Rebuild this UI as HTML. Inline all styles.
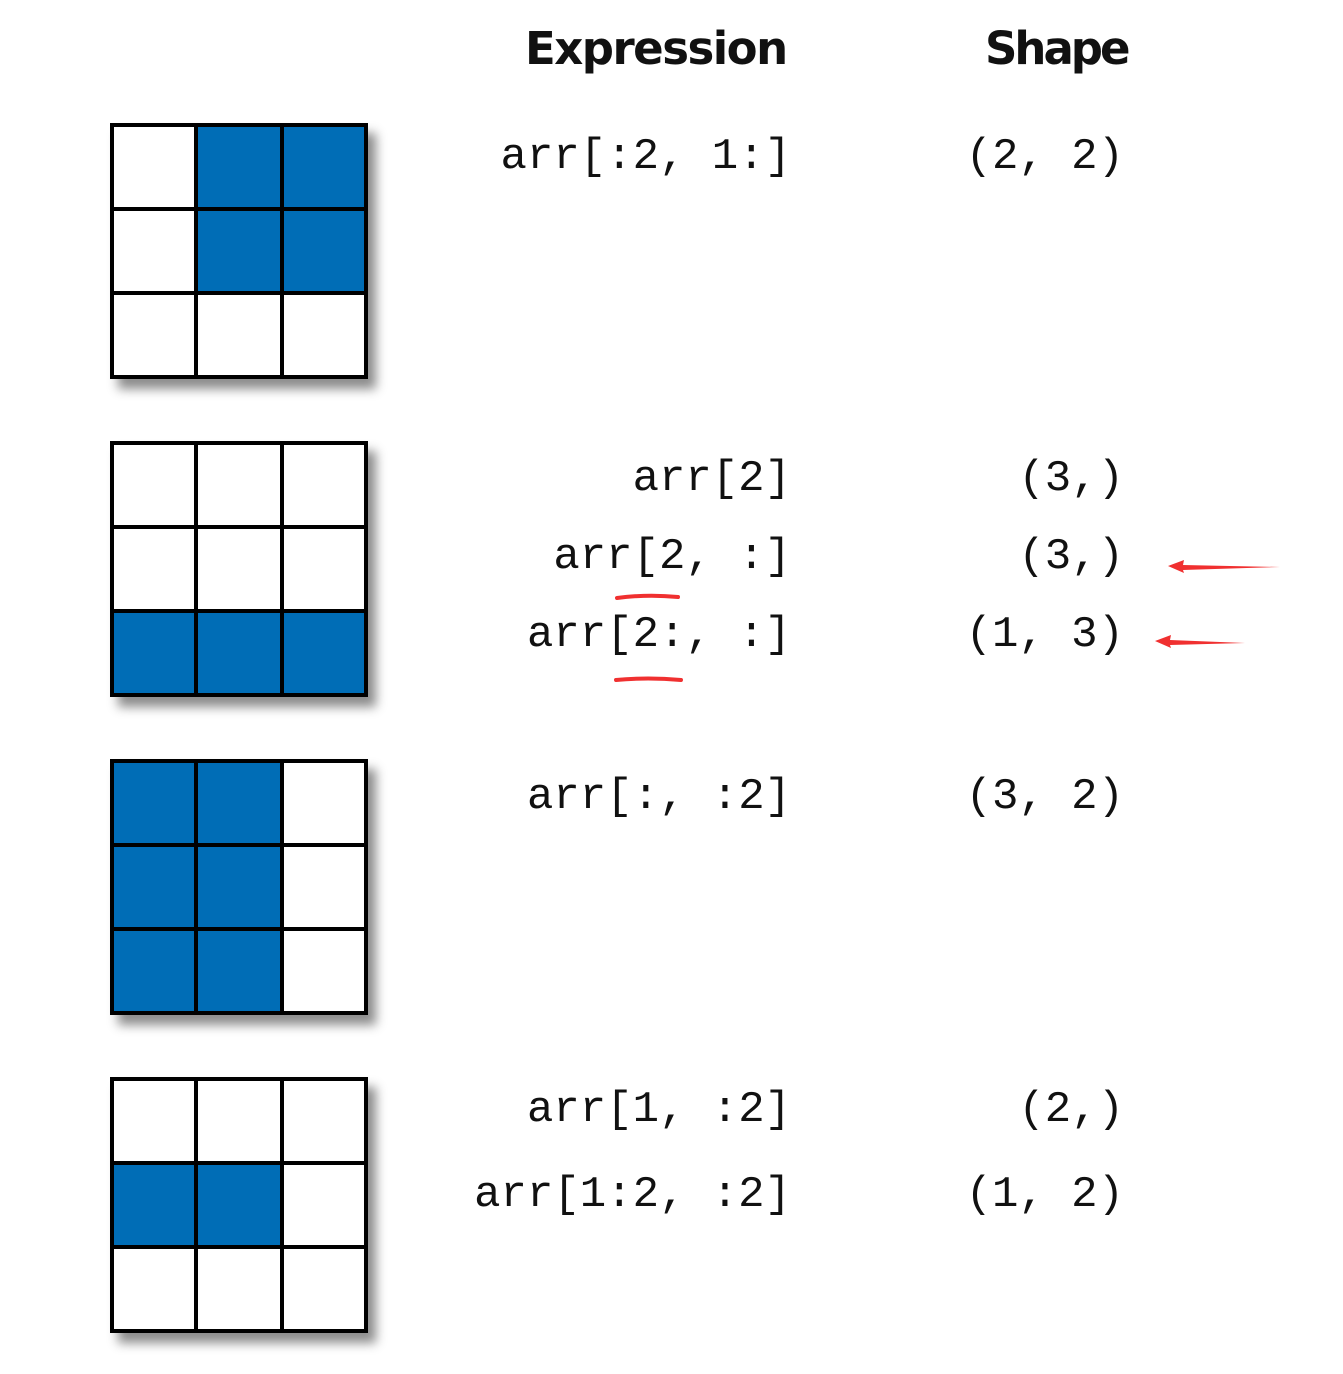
<!DOCTYPE html>
<html><head><style>
html,body{margin:0;padding:0;background:#fff;}
body{width:1343px;height:1374px;position:relative;overflow:hidden;}
.g{position:absolute;left:110px;width:258px;height:256px;box-shadow:8px 10px 10px rgba(0,0,0,0.45);}
.t{position:absolute;font-family:"Liberation Mono",monospace;font-size:44px;color:#111;white-space:pre;line-height:1;}
.e{right:552px;}
.s{right:219px;}
.h{position:absolute;font-family:"DejaVu Sans","Liberation Sans",sans-serif;font-weight:bold;font-size:45px;top:22px;color:#111;}
</style></head><body>
<div class="h" style="left:525px;letter-spacing:-1.5px">Expression</div>
<div class="h" style="left:985px;letter-spacing:-3px">Shape</div>

<svg class="g" style="top:123px" viewBox="0 0 258 256"><rect width="258" height="256" fill="#fff"/>
<rect x="86" y="0" width="172" height="170" fill="#006db6"/>
<g stroke="#000" stroke-width="4" fill="none"><rect x="2" y="2" width="254" height="252"/><line x1="86" y1="0" x2="86" y2="256"/><line x1="172" y1="0" x2="172" y2="256"/><line x1="0" y1="86" x2="258" y2="86"/><line x1="0" y1="170" x2="258" y2="170"/></g></svg>

<svg class="g" style="top:441px" viewBox="0 0 258 256"><rect width="258" height="256" fill="#fff"/>
<rect x="0" y="170" width="258" height="86" fill="#006db6"/>
<g stroke="#000" stroke-width="4" fill="none"><rect x="2" y="2" width="254" height="252"/><line x1="86" y1="0" x2="86" y2="256"/><line x1="172" y1="0" x2="172" y2="256"/><line x1="0" y1="86" x2="258" y2="86"/><line x1="0" y1="170" x2="258" y2="170"/></g></svg>

<svg class="g" style="top:759px" viewBox="0 0 258 256"><rect width="258" height="256" fill="#fff"/>
<rect x="0" y="0" width="172" height="256" fill="#006db6"/>
<g stroke="#000" stroke-width="4" fill="none"><rect x="2" y="2" width="254" height="252"/><line x1="86" y1="0" x2="86" y2="256"/><line x1="172" y1="0" x2="172" y2="256"/><line x1="0" y1="86" x2="258" y2="86"/><line x1="0" y1="170" x2="258" y2="170"/></g></svg>

<svg class="g" style="top:1077px" viewBox="0 0 258 256"><rect width="258" height="256" fill="#fff"/>
<rect x="0" y="86" width="172" height="84" fill="#006db6"/>
<g stroke="#000" stroke-width="4" fill="none"><rect x="2" y="2" width="254" height="252"/><line x1="86" y1="0" x2="86" y2="256"/><line x1="172" y1="0" x2="172" y2="256"/><line x1="0" y1="86" x2="258" y2="86"/><line x1="0" y1="170" x2="258" y2="170"/></g></svg>

<div class="t e" style="top:135px">arr[:2, 1:]</div>
<div class="t s" style="top:135px">(2, 2)</div>
<div class="t e" style="top:457px">arr[2]</div>
<div class="t s" style="top:457px">(3,)</div>
<div class="t e" style="top:535px">arr[2, :]</div>
<div class="t s" style="top:535px">(3,)</div>
<div class="t e" style="top:613px">arr[2:, :]</div>
<div class="t s" style="top:613px">(1, 3)</div>
<div class="t e" style="top:775px">arr[:, :2]</div>
<div class="t s" style="top:775px">(3, 2)</div>
<div class="t e" style="top:1088px">arr[1, :2]</div>
<div class="t s" style="top:1088px">(2,)</div>
<div class="t e" style="top:1173px">arr[1:2, :2]</div>
<div class="t s" style="top:1173px">(1, 2)</div>

<svg style="position:absolute;left:0;top:0" width="1343" height="1374">
<g stroke="#f03030" stroke-width="4" stroke-linecap="round" fill="none">
<path d="M617 598 Q647 594 678 597"/>
<path d="M616 680 Q648 677 681 680"/>
</g>
<path d="M1168 566 L1184 560 L1183 565 L1280 567 L1183 570 L1184 573 Z" fill="#f03030"/>
<path d="M1155 641 L1171 635 L1170 640 L1245 643 L1170 645 L1171 648 Z" fill="#f03030"/>
</svg>
</body></html>
